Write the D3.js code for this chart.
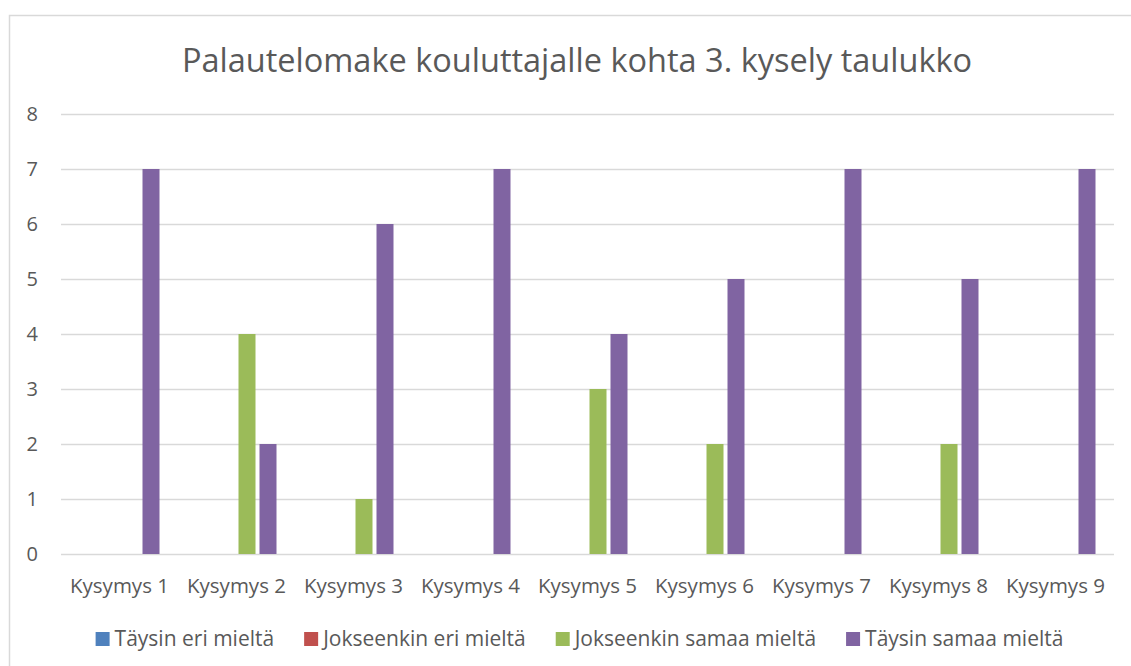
<!DOCTYPE html>
<html>
<head>
  <script src="https://d3js.org/d3.v7.min.js"></script>
  <style>
    body { margin: 0; background: #fff; }
    text { font-family: "Open Sans", sans-serif; fill: #595959; }
  </style>
</head>
<body>
  <script>
    const categories = ["Kysymys 1", "Kysymys 2", "Kysymys 3", "Kysymys 4", "Kysymys 5",
                        "Kysymys 6", "Kysymys 7", "Kysymys 8", "Kysymys 9"];
    const seriesNames = ["Täysin eri mieltä", "Jokseenkin eri mieltä", "Jokseenkin samaa mieltä", "Täysin samaa mieltä"];
    const taysinEri = [0, 0, 0, 0, 0, 0, 0, 0, 0];
    const jokseenkinEri = [0, 0, 0, 0, 0, 0, 0, 0, 0];
    const jokseenkinSamaa = [0, 4, 1, 0, 3, 2, 0, 2, 0];
    const taysinSamaa = [7, 2, 6, 7, 4, 5, 7, 5, 7];
    const yTicks = [0, 1, 2, 3, 4, 5, 6, 7, 8];
    const colors = ["#4f81bd", "#c0504d", "#9bbb59", "#8064a2"];
    const title = "Palautelomake kouluttajalle kohta 3. kysely taulukko";

    const seriesValues = [taysinEri, jokseenkinEri, jokseenkinSamaa, taysinSamaa];

    const width = 1131;
    const height = 666;
    const margin = { top: 114, right: 17, bottom: 112, left: 61 };

    const svg = d3.select("body")
      .append("svg")
      .attr("width", width)
      .attr("height", height);

    // chart area border (right/bottom edges fall outside the picture)
    svg.append("rect")
      .attr("x", 9.5)
      .attr("y", 15.5)
      .attr("width", 1200)
      .attr("height", 800)
      .attr("fill", "#fff")
      .attr("stroke", "#d9d9d9")
      .attr("stroke-width", 1.5);

    svg.append("text")
      .attr("x", 577)
      .attr("y", 72)
      .attr("text-anchor", "middle")
      .attr("font-size", "32.5px")
      .text(title);

    const x0 = d3.scaleBand()
      .domain(categories)
      .range([margin.left, width - margin.right]);

    const groupWidth = 80;
    const x1 = d3.scaleBand()
      .domain(seriesNames)
      .range([0, groupWidth])
      .paddingInner(4 / 21);

    const y = d3.scaleLinear()
      .domain([0, 8])
      .range([height - margin.bottom, margin.top]);

    // gridlines
    svg.append("g")
      .selectAll("line")
      .data(yTicks)
      .join("line")
      .attr("x1", margin.left)
      .attr("x2", width - margin.right)
      .attr("y1", d => Math.round(y(d)) + 0.5)
      .attr("y2", d => Math.round(y(d)) + 0.5)
      .attr("stroke", "#d9d9d9")
      .attr("stroke-width", 1.5);

    // y tick labels
    svg.append("g")
      .selectAll("text")
      .data(yTicks)
      .join("text")
      .attr("x", 38)
      .attr("y", d => y(d))
      .attr("dy", "0.36em")
      .attr("text-anchor", "end")
      .attr("font-size", "20px")
      .text(d => d);

    // bars
    const groups = svg.append("g")
      .selectAll("g")
      .data(categories)
      .join("g")
      .attr("transform", d => `translate(${x0(d) + (x0.bandwidth() - groupWidth) / 2},0)`);

    groups.selectAll("rect")
      .data((d, i) => seriesNames.map((s, j) => ({ s, j, v: seriesValues[j][i] })))
      .join("rect")
      .attr("x", d => x1(d.s))
      .attr("y", d => y(d.v))
      .attr("width", x1.bandwidth())
      .attr("height", d => y(0) - y(d.v))
      .attr("fill", d => colors[d.j]);

    // category labels
    svg.append("g")
      .selectAll("text")
      .data(categories)
      .join("text")
      .attr("x", d => x0(d) + x0.bandwidth() / 2)
      .attr("y", 593)
      .attr("text-anchor", "middle")
      .attr("font-size", "20.5px")
      .text(d => d);

    // legend
    const legend = svg.append("g");
    const items = legend.selectAll("g")
      .data(seriesNames)
      .join("g");

    items.append("rect")
      .attr("width", 14)
      .attr("height", 14)
      .attr("y", 632)
      .attr("fill", (d, i) => colors[i]);

    items.append("text")
      .attr("x", 19)
      .attr("y", 646)
      .attr("font-size", "21px")
      .text(d => d);

    let offset = 0;
    const positions = [];
    items.each(function () {
      const w = d3.select(this).select("text").node().getComputedTextLength();
      positions.push(offset);
      offset += 19 + w + 30;
    });
    const total = offset - 30;
    const startX = 579.5 - total / 2;
    items.attr("transform", (d, i) => `translate(${startX + positions[i]},0)`);
  </script>
</body>
</html>
